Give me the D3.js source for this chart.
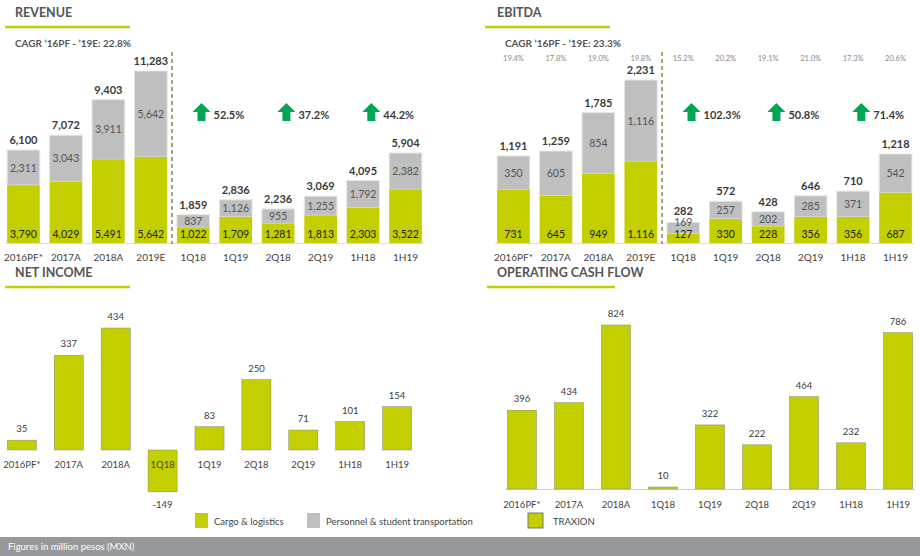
<!DOCTYPE html>
<html><head><meta charset="utf-8">
<script src="https://cdn.jsdelivr.net/npm/d3@7"></script>
<style>body{margin:0;background:#fff}svg{font-family:Lato,"Open Sans",sans-serif}</style>
</head><body><svg width="920" height="556"></svg>
<script>
// data
const periods = ['2016PF*','2017A','2018A','2019E','1Q18','1Q19','2Q18','2Q19','1H18','1H19'];
const revCargo = [3790,4029,5491,5642,1022,1709,1281,1813,2303,3522];
const revPersonnel = [2311,3043,3911,5642,837,1126,955,1255,1792,2382];
const revTotal = [6100,7072,9403,11283,1859,2836,2236,3069,4095,5904];
const revGrowth = ['52.5%','37.2%','44.2%'];
const ebCargo = [731,645,949,1116,127,330,228,356,356,687];
const ebPersonnel = [350,605,854,1116,169,257,202,285,371,542];
const ebTotal = [1191,1259,1785,2231,282,572,428,646,710,1218];
const ebMargin = ['19.4%','17.8%','19.0%','19.8%','15.2%','20.2%','19.1%','21.0%','17.3%','20.6%'];
const ebGrowth = ['102.3%','50.8%','71.4%'];
const niPeriods = ['2016PF*','2017A','2018A','1Q18','1Q19','2Q18','2Q19','1H18','1H19'];
const niValues = [35,337,434,-149,83,250,71,101,154];
const ocfValues = [396,434,824,10,322,222,464,232,786];

const LIME = '#c3cf00', GREY = '#bfbfbf', TXT = '#3b3b3b', GREEN = '#00a651';
const svg = d3.select('svg');
const fmt = d3.format(',');

function title(x, y, text, lineX0, lineX1) {
    svg.append('text').attr('x', x).attr('y', y).attr('font-size', 12.5).attr('font-weight', 700)
        .attr('fill', '#555').text(text);
    svg.append('line').attr('x1', lineX0).attr('x2', lineX1).attr('y1', y + 10).attr('y2', y + 10)
        .attr('stroke', LIME).attr('stroke-width', 2.5);
}

function arrow(g, x, y) {
    g.append('path').attr('fill', GREEN)
        .attr('d', `M${x},${y} l9,-9 l9,9 h-5 v9 h-8 v-9 z`);
}

// stacked panel (revenue / ebitda)
function stacked(x0, x1, yMax, cargo, pers, total, growth, dashX, cagr, margins) {
    const g = svg.append('g');
    const x = d3.scaleBand().domain(periods).range([x0, x1]).paddingInner(0.23).paddingOuter(0.05);
    const y = d3.scaleLinear().domain([0, yMax]).range([243, 71]);
    g.append('line').attr('x1', x0).attr('x2', x1).attr('y1', 243.5).attr('y2', 243.5).attr('stroke', '#ddd');
    periods.forEach((p, i) => {
        const bx = x(p), w = x.bandwidth(), cx = bx + w / 2;
        g.append('rect').attr('x', bx).attr('width', w).attr('y', y(total[i])).attr('height', y(cargo[i]) - y(total[i]))
            .attr('fill', GREY).attr('stroke', '#e6e6e6');
        g.append('rect').attr('x', bx).attr('width', w).attr('y', y(cargo[i])).attr('height', 243 - y(cargo[i]))
            .attr('fill', LIME);
        const my = Math.min((y(total[i]) + y(cargo[i])) / 2 + 4, 226);
        g.append('text').attr('x', cx).attr('y', Math.min(y(total[i]) - 6, my - 11)).attr('text-anchor', 'middle')
            .attr('font-size', 11).attr('font-weight', 700).attr('fill', TXT).text(fmt(total[i]));
        g.append('text').attr('x', cx).attr('y', my).attr('text-anchor', 'middle')
            .attr('font-size', 10.5).attr('fill', '#555').text(fmt(pers[i]));
        g.append('text').attr('x', cx).attr('y', 238).attr('text-anchor', 'middle')
            .attr('font-size', 10.5).attr('fill', '#222').text(fmt(cargo[i]));
        g.append('text').attr('x', cx).attr('y', 261).attr('text-anchor', 'middle')
            .attr('font-size', 10).attr('fill', '#444').text(p);
        if (margins) g.append('text').attr('x', cx).attr('y', 61).attr('text-anchor', 'middle')
            .attr('font-size', 7.5).attr('fill', '#888').text(margins[i]);
    });
    g.append('line').attr('x1', dashX).attr('x2', dashX).attr('y1', 52).attr('y2', 244)
        .attr('stroke', '#6b7a3a').attr('stroke-width', 1.3).attr('stroke-dasharray', '4,3');
    growth.forEach((t, k) => {
        const mid = (x(periods[4 + 2 * k]) + x(periods[5 + 2 * k]) + x.bandwidth()) / 2;
        arrow(g, mid - 22, 112);
        g.append('text').attr('x', mid - 1).attr('y', 119).attr('font-size', 11).attr('font-weight', 700)
            .attr('fill', TXT).text(t);
    });
    svg.append('text').attr('x', x0 + 10).attr('y', 47).attr('font-size', 10).attr('font-weight', 700)
        .attr('fill', '#555').text(cagr);
}

title(15, 17, 'REVENUE', 5, 130);
stacked(5, 424, 11283, revCargo, revPersonnel, revTotal, revGrowth, 172, 'CAGR \u201916PF - \u201919E: 22.8%', null);
title(497, 17, 'EBITDA', 485, 610);
stacked(495, 914, 2231 * 172 / 163, ebCargo, ebPersonnel, ebTotal, ebGrowth, 662, 'CAGR \u201916PF - \u201919E: 23.3%', ebMargin);

// simple panels
function simple(x0, x1, base, top, vmax, cats, vals, labelY, axis) {
    const g = svg.append('g');
    const x = d3.scaleBand().domain(cats).range([x0, x1]).paddingInner(0.38).paddingOuter(0.05);
    const y = d3.scaleLinear().domain([0, vmax]).range([base, top]);
    if (axis) g.append('line').attr('x1', x0).attr('x2', x1).attr('y1', base + 0.5).attr('y2', base + 0.5).attr('stroke', '#ccc');
    cats.forEach((c, i) => {
        const v = vals[i], bx = x(c), w = x.bandwidth(), cx = bx + w / 2;
        g.append('rect').attr('x', bx).attr('width', w).attr('y', y(Math.max(v, 0)))
            .attr('height', Math.abs(y(v) - y(0))).attr('fill', LIME).attr('stroke', '#888').attr('stroke-width', 0.5);
        g.append('text').attr('x', cx).attr('y', v >= 0 ? y(v) - 8 : y(v) + 16).attr('text-anchor', 'middle')
            .attr('font-size', 9.5).attr('fill', TXT).text(v);
        g.append('text').attr('x', cx).attr('y', labelY).attr('text-anchor', 'middle')
            .attr('font-size', 9.5).attr('fill', '#444').text(c);
    });
}
title(15, 277, 'NET INCOME', 5, 130);
simple(5, 414, 450, 328, 434, niPeriods, niValues, 468, false);
title(497, 277, 'OPERATING CASH FLOW', 487, 615);
simple(505, 915, 489, 325, 824, niPeriods, ocfValues, 508, true);

// legend
const legend = [['Cargo & logistics', LIME, 195, 'none'], ['Personnel & student transportation', GREY, 307, 'none'], ['TRAXION', LIME, 528, '#777']];
legend.forEach(d => {
    svg.append('rect').attr('x', d[2]).attr('y', 513).attr('width', d[3] === 'none' ? 13 : 15).attr('height', 15)
        .attr('fill', d[1]).attr('stroke', d[3]);
    svg.append('text').attr('x', d[2] + (d[3] === 'none' ? 19 : 25)).attr('y', 525).attr('font-size', 9.5)
        .attr('fill', '#444').text(d[0]);
});
svg.append('rect').attr('x', 0).attr('y', 537).attr('width', 920).attr('height', 19).attr('fill', '#95999c');
svg.append('text').attr('x', 8).attr('y', 550).attr('font-size', 9.5).attr('fill', '#fff').text('Figures in million pesos (MXN)');
</script></body></html>
